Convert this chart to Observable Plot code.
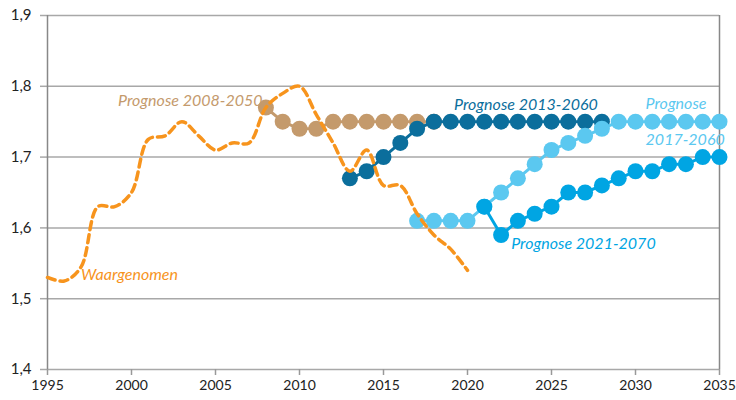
<!DOCTYPE html>
<html>
<head>
<meta charset="utf-8">
<script src="https://cdn.jsdelivr.net/npm/d3@7"></script>
<script src="https://cdn.jsdelivr.net/npm/@observablehq/plot@0.6"></script>
<style>
  html, body { margin: 0; padding: 0; background: #fff; }
  svg { font-family: Lato, "Open Sans", sans-serif; }
</style>
</head>
<body>
<div id="chart"></div>
<script>
// Observed (Waargenomen)
const obsYears = [1995,1996,1997,1998,1999,2000,2001,2002,2003,2004,2005,2006,2007,2008,2009,2010,2011,2012,2013,2014,2015,2016,2017,2018,2019,2020];
const obsValues = [1.53,1.525,1.545,1.63,1.63,1.65,1.725,1.73,1.75,1.73,1.71,1.72,1.72,1.77,1.79,1.80,1.76,1.72,1.68,1.71,1.66,1.66,1.62,1.59,1.57,1.54];

// Prognose 2008-2050
const p2008Years = [2008,2009,2010,2011,2012,2013,2014,2015,2016,2017,2018];
const p2008Values = [1.77,1.75,1.74,1.74,1.75,1.75,1.75,1.75,1.75,1.75,1.75];

// Prognose 2013-2060
const p2013Years = [2013,2014,2015,2016,2017,2018,2019,2020,2021,2022,2023,2024,2025,2026,2027,2028];
const p2013Values = [1.67,1.68,1.70,1.72,1.74,1.75,1.75,1.75,1.75,1.75,1.75,1.75,1.75,1.75,1.75,1.75];

// Prognose 2017-2060
const p2017Years = [2017,2018,2019,2020,2021,2022,2023,2024,2025,2026,2027,2028,2029,2030,2031,2032,2033,2034,2035];
const p2017Values = [1.61,1.61,1.61,1.61,1.63,1.65,1.67,1.69,1.71,1.72,1.73,1.74,1.75,1.75,1.75,1.75,1.75,1.75,1.75];

// Prognose 2021-2070
const p2021Years = [2021,2022,2023,2024,2025,2026,2027,2028,2029,2030,2031,2032,2033,2034,2035];
const p2021Values = [1.63,1.59,1.61,1.62,1.63,1.65,1.65,1.66,1.67,1.68,1.68,1.69,1.69,1.70,1.70];

const xTicks = [1995,2000,2005,2010,2015,2020,2025,2030,2035];
const yTicks = [1.4,1.5,1.6,1.7,1.8,1.9];

// Series labels (start-anchored, in data units)
const labelText = ["Prognose 2008-2050","Waargenomen","Prognose 2013-2060","Prognose","2017-2060","Prognose 2021-2070"];
const labelX = [1999.2,1997.0,2019.2,2030.6,2030.6,2022.6];
const labelY = [1.78,1.533,1.774,1.775,1.724,1.578];
const labelColor = ["#c49a6c","#f7941d","#0b6e9c","#5bc8f0","#5bc8f0","#00a5e3"];

const toRows = (xs, ys) => xs.map((x, i) => ({x, y: ys[i]}));
const obs = toRows(obsYears, obsValues);
const p2008 = toRows(p2008Years, p2008Values);
const p2013 = toRows(p2013Years, p2013Values);
const p2017 = toRows(p2017Years, p2017Values);
const p2021 = toRows(p2021Years, p2021Values);
const labels = labelText.map((t, i) => ({t, x: labelX[i], y: labelY[i], c: labelColor[i]}));

const series = (data, color) => [
  Plot.line(data, {x: "x", y: "y", stroke: color, strokeWidth: 3}),
  Plot.dot(data, {x: "x", y: "y", r: 8, fill: color})
];

const chart = Plot.plot({
  width: 736,
  height: 400,
  marginLeft: 47,
  marginRight: 17,
  marginTop: 15,
  marginBottom: 31,
  x: {domain: [1995, 2035], label: null},
  y: {domain: [1.4, 1.9], label: null},
  style: {fontFamily: "Lato, 'Open Sans', sans-serif", background: "#fff"},
  marks: [
    Plot.ruleY(yTicks, {stroke: "#a8a8a8", strokeWidth: 1.5}),
    Plot.axisY({ticks: yTicks, tickFormat: d => d.toFixed(1).replace(".", ","), tickSize: 7, stroke: "#a8a8a8", strokeWidth: 1.5, tickPadding: 9, fontSize: 15, fill: "#222", label: null}),
    Plot.axisX({ticks: xTicks, tickFormat: d => String(d), tickSize: 6, stroke: "#999", strokeWidth: 1.5, fontSize: 14, fill: "#222", tickPadding: 5, label: null}),
    Plot.ruleX([1995], {stroke: "#888", strokeWidth: 1.5}),
    Plot.ruleX([2035], {stroke: "#888", strokeWidth: 1.5}),
    ...series(p2008, "#c49a6c"),
    ...series(p2013, "#0b6e9c"),
    ...series(p2017, "#5bc8f0"),
    ...series(p2021, "#00a5e3"),
    Plot.line(obs, {x: "x", y: "y", stroke: "#f7941d", strokeWidth: 3.5, strokeDasharray: "8,5", curve: "catmull-rom"}),
    Plot.text(labels, {x: "x", y: "y", text: "t", textAnchor: "start", fill: "c", fontSize: 16, fontStyle: "italic"})
  ]
});
document.getElementById("chart").appendChild(chart);
</script>
</body>
</html>
